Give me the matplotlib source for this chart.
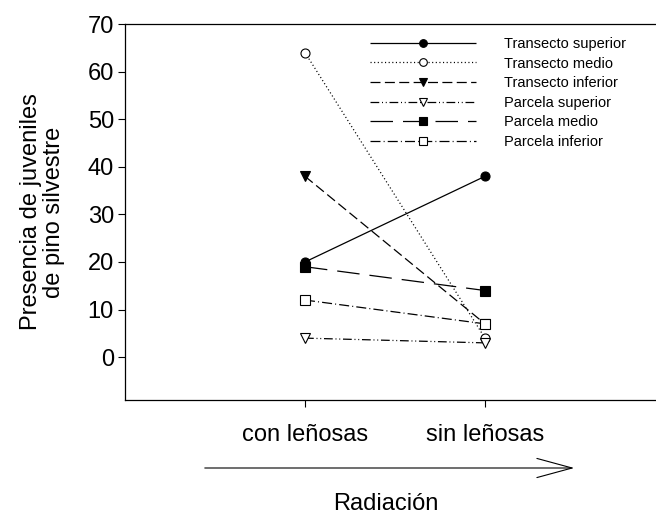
import matplotlib
matplotlib.use("Agg")
import matplotlib.pyplot as plt
from matplotlib.patches import FancyArrowPatch

# data
categories = ["con leñosas", "sin leñosas"]
series_names = ["Transecto superior", "Transecto medio", "Transecto inferior",
                "Parcela superior", "Parcela medio", "Parcela inferior"]
transecto_superior = [20, 38]
transecto_medio = [64, 4]
transecto_inferior = [38, 7]
parcela_superior = [4, 3]
parcela_medio = [19, 14]
parcela_inferior = [12, 7]
yticks = [0, 10, 20, 30, 40, 50, 60, 70]

values = [transecto_superior, transecto_medio, transecto_inferior,
          parcela_superior, parcela_medio, parcela_inferior]
styles = [
    ("o", "black", [1, 0]),
    ("o", "white", [0.9, 2.0]),
    ("v", "black", [8, 3.5]),
    ("v", "white", [7, 2.2, 0.8, 2.2, 0.8, 2.2]),
    ("s", "black", [18, 8]),
    ("s", "white", [8, 2.5, 0.8, 2.5]),
]

plt.rcParams["font.family"] = ["Liberation Sans", "DejaVu Sans"]

fig = plt.figure(figsize=(6.56, 5.16), dpi=100)
ax = fig.add_axes([125 / 656, 1 - 400 / 516, 540 / 656, 376 / 516])

x = [1, 2]
for name, vals, (mk, fc, dash) in zip(series_names, values, styles):
    ax.plot(x, vals, color="black", lw=0.9, marker=mk, ms=6.5,
            mfc=fc, mec="black", mew=0.8, label=name, dashes=dash)

ax.set_xlim(0, 3)
ax.set_ylim(-9, 70)
ax.set_yticks(yticks)
ax.set_xticks(x)
ax.set_xticklabels(categories)
ax.tick_params(axis="both", labelsize=17, direction="out", length=5, width=0.8)
ax.tick_params(axis="x", pad=12)
ax.tick_params(axis="y", pad=3)
ax.spines["right"].set_visible(False)
for s in ["left", "bottom", "top"]:
    ax.spines[s].set_linewidth(0.9)

ax.set_ylabel("Presencia de juveniles\nde pino silvestre", fontsize=17,
              linespacing=1.05, labelpad=16)

ax.legend(loc="upper left", bbox_to_anchor=(370 / 656, 1 - 37 / 516),
          bbox_transform=fig.transFigure, frameon=False, fontsize=10.5,
          handlelength=7.3, handletextpad=1.9, labelspacing=0.38,
          borderpad=0, borderaxespad=0, markerscale=0.85)

# radiation arrow below the axis
fig.add_artist(FancyArrowPatch(
    (202 / 656, 1 - 468 / 516), (577 / 656, 1 - 468 / 516),
    transform=fig.transFigure, arrowstyle="->,head_length=1.95,head_width=0.53",
    mutation_scale=13, lw=0.8, color="black"))
fig.text(386 / 656, 1 - 510 / 516, "Radiación", ha="center", va="baseline",
         fontsize=17)

fig.savefig("out.png", dpi=100)
